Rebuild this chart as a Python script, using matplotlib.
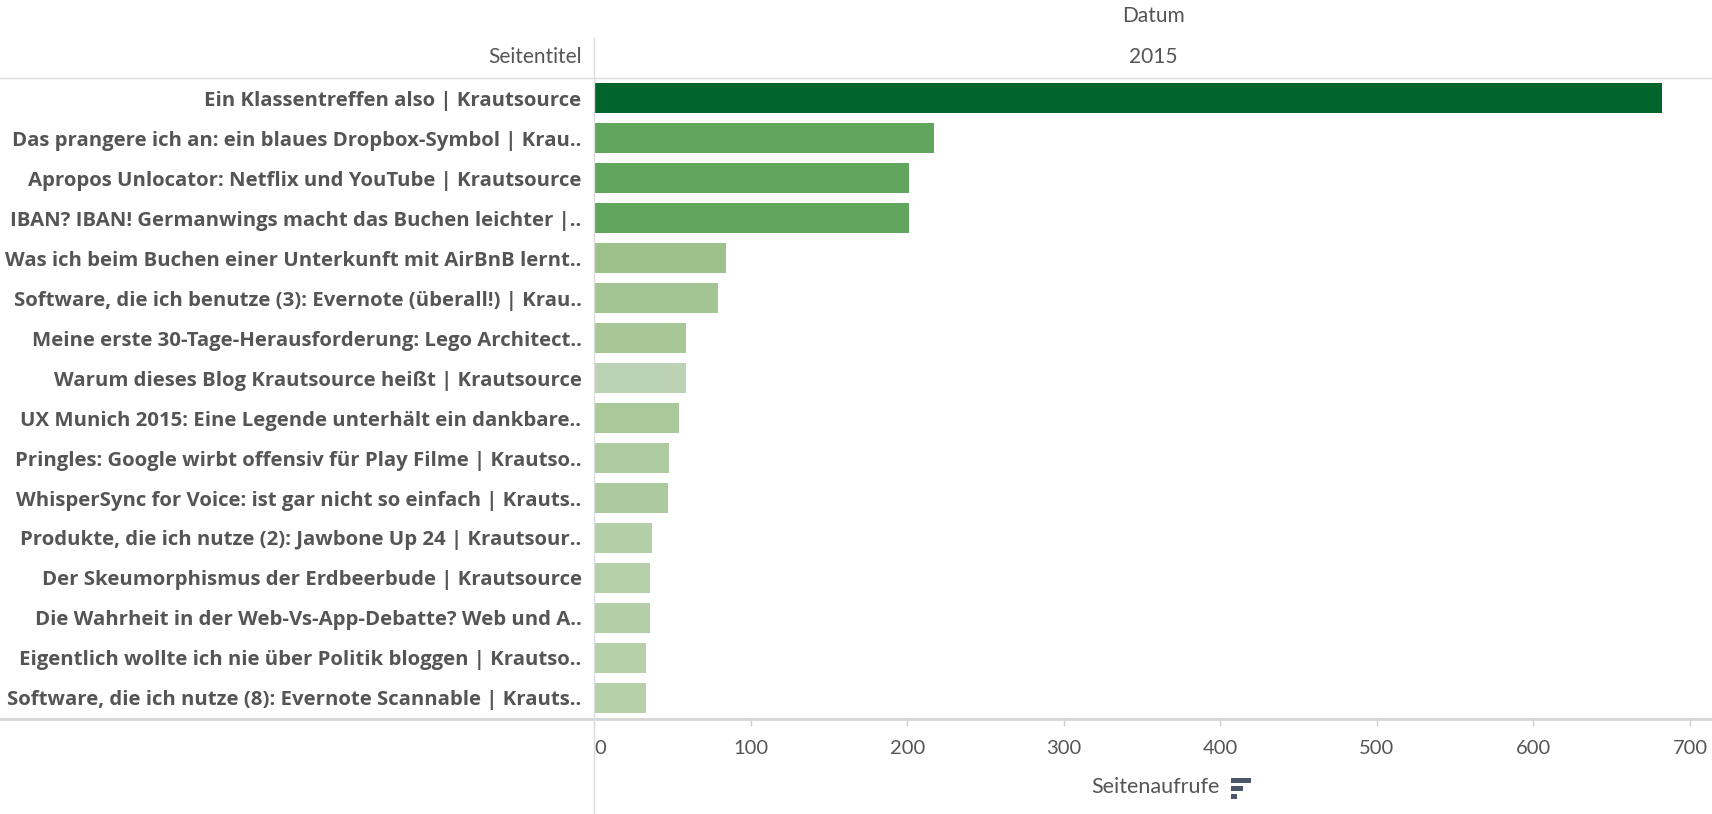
import matplotlib
matplotlib.use("Agg")
import matplotlib.pyplot as plt
from matplotlib.lines import Line2D
from matplotlib.patches import Rectangle

plt.rcParams['font.family'] = ['Lato', 'DejaVu Sans']

titles = [
    "Ein Klassentreffen also | Krautsource",
    "Das prangere ich an: ein blaues Dropbox-Symbol | Krau..",
    "Apropos Unlocator: Netflix und YouTube | Krautsource",
    "IBAN? IBAN! Germanwings macht das Buchen leichter |..",
    "Was ich beim Buchen einer Unterkunft mit AirBnB lernt..",
    "Software, die ich benutze (3): Evernote (überall!) | Krau..",
    "Meine erste 30-Tage-Herausforderung: Lego Architect..",
    "Warum dieses Blog Krautsource heißt | Krautsource",
    "UX Munich 2015: Eine Legende unterhält ein dankbare..",
    "Pringles: Google wirbt offensiv für Play Filme | Krautso..",
    "WhisperSync for Voice: ist gar nicht so einfach | Krauts..",
    "Produkte, die ich nutze (2): Jawbone Up 24 | Krautsour..",
    "Der Skeumorphismus der Erdbeerbude | Krautsource",
    "Die Wahrheit in der Web-Vs-App-Debatte? Web und A..",
    "Eigentlich wollte ich nie über Politik bloggen | Krautso..",
    "Software, die ich nutze (8): Evernote Scannable | Krauts..",
]
views = [682, 217, 201, 201, 84, 79, 59, 59, 54, 48, 47, 37, 36, 36, 33, 33]
bar_colors = ["#00652b", "#61a65c", "#62a65d", "#62a65d", "#9cc18b", "#a3c594",
              "#a7c797", "#bbd2b4", "#aac99b", "#aecb9f", "#adca9e", "#b4cfa8",
              "#b5cfa9", "#b4cea8", "#b6d0aa", "#b6d0aa"]
xticks = [0, 100, 200, 300, 400, 500, 600, 700]
year = "2015"

W, H = 1712, 814
fig = plt.figure(figsize=(W / 100, H / 100), dpi=100)

def fx(px):
    return px / W

def fy(py):
    return 1 - py / H

left, right, top, bottom = 594, 1712, 78, 718
ax = fig.add_axes([fx(left), fy(bottom), fx(right - left), (bottom - top) / H])

ypos = list(range(len(titles)))
ax.barh(ypos, views, height=0.74, color=bar_colors)
ax.set_ylim(len(titles) - 0.5, -0.5)
ax.set_xlim(0, 714)
for s in ax.spines.values():
    s.set_visible(False)

ax.set_yticks(ypos)
ax.set_yticklabels(titles, fontsize=14.7, fontweight='bold', color='#555555',
                   family=['Open Sans', 'DejaVu Sans'])
ax.tick_params(axis='y', length=0, pad=9)

ax.set_xticks(xticks)
ax.set_xticklabels([str(t) for t in xticks], fontsize=14.5, color='#555555')
ax.tick_params(axis='x', length=6, width=1, color='#d0d0d0', pad=10)
ax.get_xticklabels()[0].set_horizontalalignment('left')

line_col = '#d6d6d6'
# header line
fig.add_artist(Line2D([0, 1], [fy(78), fy(78)], color='#dcdcdc', lw=1.0))
# bottom axis line
fig.add_artist(Line2D([0, 1], [fy(718.5), fy(718.5)], color=line_col, lw=2.0))
# vertical divider
fig.add_artist(Line2D([fx(594), fx(594)], [fy(38), 0], color='#dcdcdc', lw=1.0))

txt_col = '#555555'
fig.text(fx(1153), fy(16), "Datum", ha='center', va='center', fontsize=15, color=txt_col)
fig.text(fx(1153), fy(57), year, ha='center', va='center', fontsize=15, color=txt_col)
fig.text(fx(582), fy(57), "Seitentitel", ha='right', va='center', fontsize=15, color=txt_col)
fig.text(fx(1155), fy(787), "Seitenaufrufe", ha='center', va='center', fontsize=15.5, color=txt_col)

# sort icon
icon_col = '#4b5669'
x0 = 1231
for i, w in enumerate([20, 12, 6]):
    fig.add_artist(Rectangle((fx(x0), fy(778 + i * 8 + 5)), fx(w), 5 / H,
                             color=icon_col, lw=0))

fig.savefig("out.png", dpi=100)
